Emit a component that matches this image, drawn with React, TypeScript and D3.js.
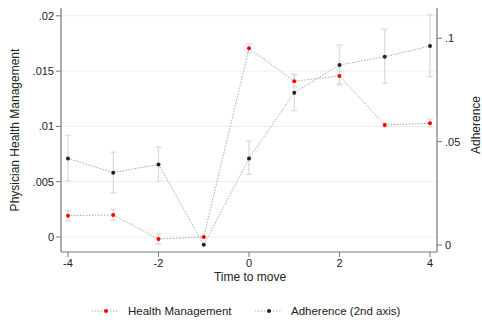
import * as d3 from 'd3';
import React, { useEffect, useRef } from 'react';

// time to move (years)
const times = [-4, -3, -2, -1, 0, 1, 2, 3, 4];

// Health Management (left axis)
const hmEst = [0.00193, 0.00199, -0.00018, 0.0, 0.01706, 0.01408, 0.01456, 0.01013, 0.01028];
const hmLo = [0.00145, 0.0015, -0.00066, -0.00004, 0.0167, 0.0136, 0.01374, 0.00995, 0.00995];
const hmHi = [0.0024, 0.0025, 0.0003, 0.00004, 0.01745, 0.01467, 0.01504, 0.0103, 0.01067];

// Adherence (right axis)
const adEst = [0.0419, 0.035, 0.039, 0.0001, 0.0418, 0.0737, 0.0871, 0.0911, 0.0963];
const adLo = [0.031, 0.0252, 0.0308, 0.0001, 0.0342, 0.065, 0.078, 0.0782, 0.0814];
const adHi = [0.0531, 0.0449, 0.0473, 0.0001, 0.0503, 0.0826, 0.0968, 0.1044, 0.1113];

const xTicks = [-4, -2, 0, 2, 4];
const leftTicks = [0, 0.005, 0.01, 0.015, 0.02];
const leftLabels = ['0', '.005', '.01', '.015', '.02'];
const rightTicks = [0, 0.05, 0.1];
const rightLabels = ['0', '.05', '.1'];

const W = 482, H = 325;

const App = () => {
  const ref = useRef<SVGSVGElement>(null);

  useEffect(() => {
    const svg = d3.select(ref.current);
    svg.selectAll('*').remove();

    const left = 61, right = 437, top = 8, bottom = 252;
    const x = d3.scaleLinear().domain([-4, 4]).range([68, 430]);
    const yL = d3.scaleLinear().domain([0, 0.02]).range([237, 15.8]);
    const yR = d3.scaleLinear().domain([0, 0.1]).range([245, 38.3]);

    const font = 'Liberation Sans, Arial, sans-serif';

    // gridlines
    svg.append('g').selectAll('line').data(leftTicks).enter().append('line')
      .attr('x1', left).attr('x2', right)
      .attr('y1', d => yL(d)).attr('y2', d => yL(d))
      .attr('stroke', '#eeeeee').attr('stroke-width', 1);

    // left axis
    const gl = svg.append('g').attr('transform', `translate(${left},0)`);
    gl.append('line').attr('y1', top).attr('y2', bottom).attr('stroke', '#777').attr('stroke-width', 1.2);
    gl.selectAll('.t').data(leftTicks).enter().append('line')
      .attr('x1', -5).attr('x2', 0).attr('y1', d => yL(d)).attr('y2', d => yL(d)).attr('stroke', '#777');
    gl.selectAll('text').data(leftTicks).enter().append('text')
      .attr('x', -7).attr('y', d => yL(d)).attr('dy', '0.35em')
      .attr('text-anchor', 'end').attr('font-family', font).attr('font-size', 11).attr('fill', '#222')
      .text((d, i) => leftLabels[i]);

    // right axis
    const gr = svg.append('g').attr('transform', `translate(${right},0)`);
    gr.append('line').attr('y1', top).attr('y2', bottom).attr('stroke', '#777').attr('stroke-width', 1.2);
    gr.selectAll('.t').data(rightTicks).enter().append('line')
      .attr('x1', 0).attr('x2', 5).attr('y1', d => yR(d)).attr('y2', d => yR(d)).attr('stroke', '#777');
    gr.selectAll('text').data(rightTicks).enter().append('text')
      .attr('x', 8).attr('y', d => yR(d)).attr('dy', '0.35em')
      .attr('text-anchor', 'start').attr('font-family', font).attr('font-size', 11).attr('fill', '#222')
      .text((d, i) => rightLabels[i]);

    // bottom axis
    const gb = svg.append('g').attr('transform', `translate(0,${bottom})`);
    gb.append('line').attr('x1', left).attr('x2', right).attr('stroke', '#777').attr('stroke-width', 1.2);
    gb.selectAll('.t').data(xTicks).enter().append('line')
      .attr('x1', d => x(d)).attr('x2', d => x(d)).attr('y1', 0).attr('y2', 5).attr('stroke', '#777');
    gb.selectAll('text').data(xTicks).enter().append('text')
      .attr('x', d => x(d)).attr('y', 15)
      .attr('text-anchor', 'middle').attr('font-family', font).attr('font-size', 11).attr('fill', '#222')
      .text(d => String(d));

    // axis titles
    svg.append('text').attr('x', 250).attr('y', 281).attr('text-anchor', 'middle')
      .attr('font-family', font).attr('font-size', 12).attr('fill', '#222').text('Time to move');
    svg.append('text').attr('transform', 'translate(19,130) rotate(-90)').attr('text-anchor', 'middle')
      .attr('font-family', font).attr('font-size', 12).attr('fill', '#222').text('Physician Health Management');
    svg.append('text').attr('transform', 'translate(480,125) rotate(-90)').attr('text-anchor', 'middle')
      .attr('font-family', font).attr('font-size', 12).attr('fill', '#222').text('Adherence');

    const drawSeries = (est: number[], lo: number[], hi: number[], y: d3.ScaleLinear<number, number>, color: string) => {
      const g = svg.append('g');
      // error bars
      times.forEach((t, i) => {
        if (hi[i] - lo[i] <= 0) return;
        const cx = x(t);
        g.append('line').attr('x1', cx).attr('x2', cx).attr('y1', y(lo[i])).attr('y2', y(hi[i]))
          .attr('stroke', '#dcdcdc').attr('stroke-width', 1.3);
        [lo[i], hi[i]].forEach(v => {
          g.append('line').attr('x1', cx - 3).attr('x2', cx + 3).attr('y1', y(v)).attr('y2', y(v))
            .attr('stroke', '#dcdcdc').attr('stroke-width', 1.3);
        });
      });
      const line = d3.line<number>().x((d, i) => x(times[i])).y(d => y(d));
      g.append('path').datum(est).attr('d', line).attr('fill', 'none')
        .attr('stroke', '#aaaaaa').attr('stroke-width', 1).attr('stroke-dasharray', '1.5,1.5');
      g.selectAll('circle').data(est).enter().append('circle')
        .attr('cx', (d, i) => x(times[i])).attr('cy', d => y(d)).attr('r', 2).attr('fill', color);
    };

    drawSeries(adEst, adLo, adHi, yR, '#222222');
    drawSeries(hmEst, hmLo, hmHi, yL, '#ff0000');

    // legend
    const legend = [
      { label: 'Health Management', color: '#ff0000', x0: 92 },
      { label: 'Adherence (2nd axis)', color: '#222222', x0: 255 },
    ];
    const lg = svg.append('g').attr('transform', 'translate(0,311)');
    legend.forEach(l => {
      lg.append('line').attr('x1', l.x0).attr('x2', l.x0 + 27).attr('y1', 0).attr('y2', 0)
        .attr('stroke', '#aaaaaa').attr('stroke-dasharray', '1.5,1.5');
      lg.append('circle').attr('cx', l.x0 + 14).attr('cy', 0).attr('r', 2).attr('fill', l.color);
      lg.append('text').attr('x', l.x0 + 36).attr('y', 0).attr('dy', '0.35em')
        .attr('font-family', font).attr('font-size', 11.5).attr('fill', '#222').text(l.label);
    });
  }, []);

  return <svg ref={ref} width={W} height={H} style={{ position: 'absolute', left: 0, top: 0, background: '#fff' }} />;
};

export default App;
